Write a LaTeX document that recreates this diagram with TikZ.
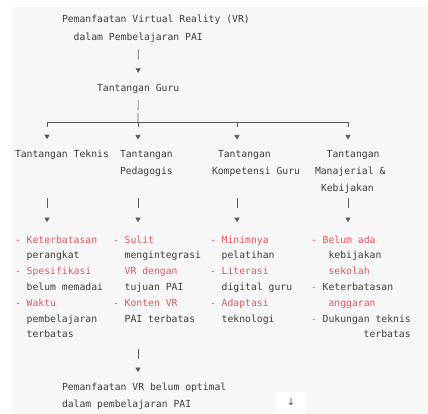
\documentclass[tikz,border=0pt]{standalone}
\usepackage{fontspec}
\setmonofont{DejaVu Sans Mono}
\newfontfamily\symfont{DejaVu Sans}
\usetikzlibrary{arrows.meta,calc}
\definecolor{bggray}{HTML}{F7F7F7}
\definecolor{txtc}{HTML}{3C3C3C}
\definecolor{redc}{HTML}{E0565B}
\definecolor{linec}{HTML}{5A5A5A}
\begin{document}
\begin{tikzpicture}[x=1pt,y=-1pt,
  every node/.style={inner sep=0pt,outer sep=0pt,anchor=base west,
    font=\ttfamily\fontsize{9.75}{12}\selectfont,text=txtc},
  rd/.style={text=redc},
  arrowbar/.style={draw=linec,line width=0.7pt,dash pattern=on 10pt off 40pt,
    -{Triangle[width=5pt,length=4.5pt]}},
  stub/.style={draw=linec,line width=0.7pt,dash pattern=on 5pt off 40pt,
    -{Triangle[width=5pt,length=4.5pt]}},
  hubbar/.style={draw=linec,line width=0.7pt,dash pattern=on 10pt off 3pt on 40pt},
  hline/.style={draw=linec,line width=0.7pt}]
\useasboundingbox (0,0) rectangle (428,414);
\fill[white] (0,0) rectangle (428,414);
\fill[bggray] (13,7) rectangle (428,414);

% title
\node (t1) at (62,23) {Pemanfaatan Virtual Reality (VR)};
\node (t2) at (73.7,41) {dalam Pembelajaran PAI};
\node (guru) at (97.1,92) {Tantangan Guru};

% headings
\node (h1) at (15,158) {Tantangan Teknis};
\node (h2a) at (120,158) {Tantangan};
\node (h2b) at (120,175) {Pedagogis};
\node (h3a) at (218,158) {Tantangan};
\node (h3b) at (212,175) {Kompetensi Guru};
\node (h4a) at (326.7,158) {Tantangan};
\node (h4b) at (315,175) {Manajerial \&};
\node (h4c) at (321,192) {Kebijakan};

% column 1
\node[rd] (l11) at (15,243) {- Keterbatasan};
\node (l12) at (26.7,258.8) {perangkat};
\node[rd] (l13) at (15,274.6) {- Spesifikasi};
\node (l14) at (26.7,290.4) {belum memadai};
\node[rd] (l15) at (15,306.2) {- Waktu};
\node (l16) at (26.7,322) {pembelajaran};
\node (l17) at (26.7,337.8) {terbatas};

% column 2
\node[rd] (l21) at (113,243) {- Sulit};
\node (l22) at (124.7,258.8) {mengintegrasi};
\node[rd] (l23) at (124.7,274.6) {VR dengan};
\node (l24) at (124.7,290.4) {tujuan PAI};
\node[rd] (l25) at (113,306.2) {- Konten VR};
\node (l26) at (124.7,322) {PAI terbatas};

% column 3
\node[rd] (l31) at (210,243) {- Minimnya};
\node (l32) at (221.7,258.8) {pelatihan};
\node[rd] (l33) at (210,274.6) {- Literasi};
\node (l34) at (221.7,290.4) {digital guru};
\node[rd] (l35) at (210,306.2) {- Adaptasi};
\node (l36) at (221.7,322) {teknologi};

% column 4
\node[rd] (l41) at (311,243) {- Belum ada};
\node (l42) at (328.6,258.8) {kebijakan};
\node[rd] (l43) at (328.6,274.6) {sekolah};
\node (l44) at (311,290.4) {\textcolor{redc}{-} Keterbatasan};
\node[rd] (l45) at (328.6,306.2) {anggaran};
\node (l46) at (311,322) {\textcolor{redc}{-} Dukungan teknis};
\node (l47) at (363.7,337.8) {terbatas};

% bottom
\node (bo1) at (62,390) {Pemanfaatan VR belum optimal};
\node (bo2) at (62,407) {dalam pembelajaran PAI};

% scroll button
\fill[white,rounded corners=2pt] (276,392) rectangle (305,416);
\node[anchor=center,font=\symfont\fontsize{10}{12}\selectfont,text=linec] (down) at (291,402) {↓};

% connectors
\draw[arrowbar,shorten <=6.5pt,shorten >=12pt] (t2.south) -- (guru.north);
\coordinate (b1) at (47,122);
\coordinate (hub) at (138,122);
\coordinate (b3) at (237,122);
\coordinate (b4) at (348,122);
\draw[hubbar,shorten <=6pt] (guru.south) -- (hub);
\draw[hline] (b1) -- (b4);
\foreach \b/\h in {b1/h1,hub/h2a,b3/h3a,b4/h4a}
  \draw[stub,shorten >=11.4pt] (\b) -- (\b |- \h.north);

\coordinate (c1) at (47,198);
\coordinate (c2) at (138,198);
\coordinate (c3) at (237,198);
\coordinate (c4) at (348,198);
\foreach \c/\l in {c1/l11,c2/l21,c3/l31,c4/l41}
  \draw[arrowbar,shorten >=13.4pt] (\c) -- (\c |- \l.north);

\coordinate (d1) at (138,349);
\draw[arrowbar,shorten >=10.4pt] (d1) -- (d1 |- bo1.north);
\end{tikzpicture}
\end{document}
